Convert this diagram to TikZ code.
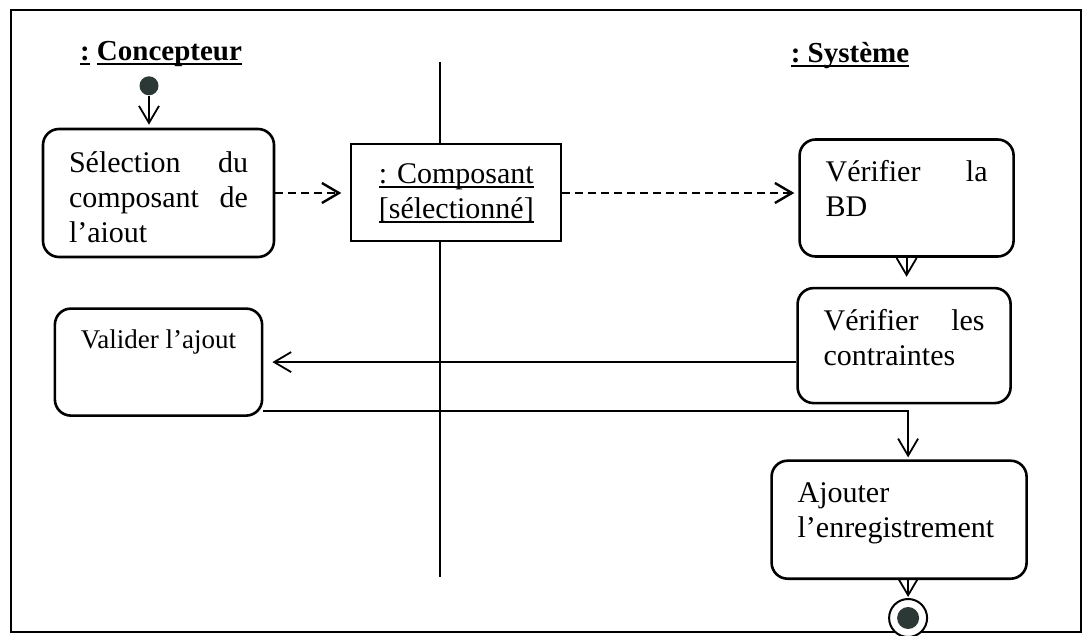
\documentclass[tikz,border=0pt]{standalone}
\usepackage{fontspec}
\setmainfont{Liberation Serif}
\usetikzlibrary{
  positioning,
  arrows.meta
}

\definecolor{dotgray}{RGB}{44,56,54}

% underline drawn at a fixed distance under the baseline
\newsavebox{\soulbox}
\newcommand{\souligne}[2][0.8pt]{%
  \sbox\soulbox{#2}\rlap{\rule[-2.2pt]{\wd\soulbox}{#1}}\usebox\soulbox}

\begin{document}
\begin{tikzpicture}[
    x=1pt, y=1pt,
    title/.style={
        anchor=base,
        font=\fontsize{14.5}{17}\selectfont\bfseries
    },
    act/.style={
        rectangle,
        rounded corners=8pt,
        draw=black,
        line width=1.3pt,
        fill=white,
        align=left,
        inner xsep=13pt,
        inner ysep=0pt,
        font=\fontsize{15}{17.5}\selectfont
    },
    objbox/.style={
        rectangle,
        draw=black,
        line width=1pt,
        fill=white,
        align=center,
        minimum width=105pt,
        minimum height=48.5pt,
        font=\fontsize{15}{17.5}\selectfont
    },
    startdot/.style={circle, fill=dotgray, minimum size=9.5pt, inner sep=0pt},
    enddot/.style={
        circle,
        draw=black,
        line width=1pt,
        fill=white,
        minimum size=19pt,
        inner sep=0pt,
        path picture={\fill[dotgray] (path picture bounding box.center) circle (5.5pt);}
    },
    flow/.style={-{Straight Barb[length=8.5pt, width=10pt]}, line width=0.9pt},
    dashflow/.style={flow, line width=1.2pt, dash pattern=on 4pt off 2.5pt},
    lane/.style={line width=1pt}
]
\useasboundingbox (0,0) rectangle (541.5,-318);

% Frame
\draw[line width=1pt] (5.5,-5) rectangle (540.5,-316);

% Lane separator
\coordinate (lanetop) at (220,-31);
\coordinate (lanebot) at (220,-288.5);
\draw[lane] (lanetop) -- (lanebot);

% Lane titles
\node[title] (concepteur) at (80.5,-30.5) {\souligne[1pt]{:}\ \souligne[1pt]{Concepteur}};
\node[title] (systeme) at (425,-31.5) {\souligne[1pt]{:\ Système}};

% Actions
\node[act, text width=89.5pt, text height=22pt, text depth=42pt] (sel) at (79.25,-96.5) {%
Sélection\hfill du\\
composant\hfill de\\
l’aiout};

\node[objbox, right=37.5pt of sel] (comp) {%
\souligne{: Composant}\\
\souligne{[sélectionné]}};

\node[act, right=118pt of comp, yshift=-2.5pt, text width=81pt, text height=21pt, text depth=37.5pt] (bd) {%
Vérifier\hfill la\\
BD};

\node[act, below=14.5pt of bd, xshift=-1.25pt, text width=80.5pt, text height=21pt, text depth=36.5pt] (contr) {%
Vérifier\hfill les\\
contraintes};

\node[act, below=27.5pt of contr, xshift=-2.5pt, text width=101.5pt, text height=21pt, text depth=38pt] (ajout) {%
Ajouter\\
l’enregistrement};

\node[act, below=24.5pt of sel, align=center, minimum width=103.5pt, text height=20pt, text depth=33.5pt,
      font=\fontsize{13.5}{16}\selectfont] (valid) {Valider l’ajout};

% Start and end
\node[startdot, above=16pt of sel, xshift=-4.75pt] (start) {};
\node[enddot, below=9pt of ajout, xshift=4.5pt] (end) {};

% Arrows
\draw[flow, shorten >=1.5pt] (start) -- (start |- sel.north);
\draw[dashflow, shorten >=4.5pt] (sel) -- (comp);
\draw[dashflow, shorten >=2pt] (comp) -- (comp -| bd.west);
\draw[flow, shorten >=5pt] (bd) -- (bd |- contr.north);
\draw[flow, shorten >=4.5pt] (contr.west |- valid) -- (valid);
\draw[flow, shorten >=1pt] ([yshift=3pt]valid.south east) -| (end |- ajout.north);
\draw[flow, shorten >=0.5pt] (end |- ajout.south) -- (end);

\end{tikzpicture}
\end{document}
